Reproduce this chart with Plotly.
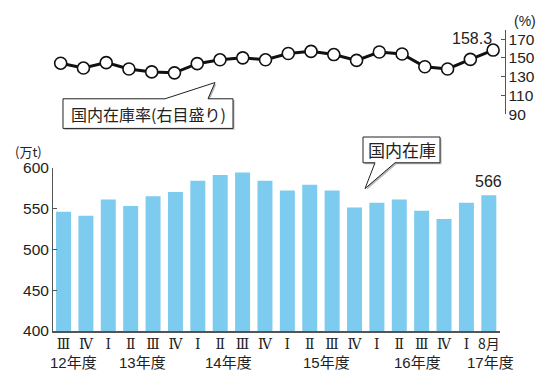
import plotly.graph_objects as go

# Quarterly periods (fiscal years 2012-2017), domestic stock (10k t) and stock ratio (%)
periods = ["Ⅲ", "Ⅳ", "Ⅰ", "Ⅱ", "Ⅲ", "Ⅳ", "Ⅰ", "Ⅱ", "Ⅲ", "Ⅳ",
           "Ⅰ", "Ⅱ", "Ⅲ", "Ⅳ", "Ⅰ", "Ⅱ", "Ⅲ", "Ⅳ", "Ⅰ", "8月"]
stock = [546, 541, 561, 553, 565, 570, 584, 591, 594, 584,
         572, 579, 572, 551, 557, 561, 547, 537, 557, 566]
stock_ratio = [144.3, 139.1, 144.9, 138.1, 135.0, 134.0, 143.8, 147.9, 150.0, 147.9,
               154.6, 156.9, 153.5, 147.3, 156.2, 154.1, 140.5, 138.1, 148.4, 158.3]
fiscal_years = ["12年度", "13年度", "14年度", "15年度", "16年度", "17年度"]
fiscal_year_pos = [0.43, 3.54, 7.35, 11.73, 15.83, 19.09]
stock_ticks = [400, 450, 500, 550, 600]
ratio_ticks = [90, 110, 130, 150, 170]

W, H = 547, 380
LATIN = "Liberation Sans, Arial, Noto Sans CJK JP"
CJK = "Noto Sans CJK JP, Liberation Sans"
ROMAN = {"Ⅰ", "Ⅱ", "Ⅲ", "Ⅳ"}


def px(x):
    return x / W


def py(y):
    return 1 - y / H


def path(points, dx=0.0, dy=0.0):
    return "M " + " L ".join(f"{px(x + dx):.5f},{py(y + dy):.5f}" for x, y in points) + " Z"


idx = list(range(len(periods)))
# quarter numerals in a serif face, month label in the sans face
tick_text = [f"<span style='font-family:DejaVu Serif'>{p}</span>" if p in ROMAN else p
             for p in periods]

fig = go.Figure()
fig.add_trace(go.Bar(
    x=idx, y=stock, xaxis="x", yaxis="y",
    marker=dict(color="#7dccef", line=dict(width=0)),
    width=0.67, hoverinfo="skip",
))
fig.add_trace(go.Scatter(
    x=idx, y=stock_ratio, xaxis="x2", yaxis="y2",
    mode="lines+markers",
    line=dict(color="#111111", width=3),
    marker=dict(size=12, color="white", line=dict(color="#111111", width=1.6)),
    hoverinfo="skip",
))

annotations = []
for name, pos in zip(fiscal_years, fiscal_year_pos):
    annotations.append(dict(
        text=name, x=pos, xref="x", y=py(370), yref="paper",
        xanchor="center", yanchor="middle", showarrow=False,
        font=dict(family=LATIN, size=15, color="#222"),
    ))
annotations += [
    dict(text="(万t)", x=px(28), y=py(149), xref="paper", yref="paper",
         showarrow=False, xanchor="center", yanchor="middle",
         font=dict(family=CJK, size=13, color="#222")),
    dict(text="(%)", x=px(525), y=py(13), xref="paper", yref="paper",
         showarrow=False, xanchor="center", yanchor="middle",
         font=dict(family=LATIN, size=14, color="#222")),
    dict(text=f"{stock_ratio[-1]:.1f}", x=idx[-1], y=stock_ratio[-1], xref="x2", yref="y2",
         showarrow=False, xanchor="right", yanchor="middle", xshift=1, yshift=12,
         font=dict(family=LATIN, size=16, color="#222")),
    dict(text=f"{stock[-1]}", x=idx[-1], y=stock[-1], xref="x", yref="y",
         showarrow=False, xanchor="center", yanchor="bottom", yshift=3,
         font=dict(family=LATIN, size=16, color="#222")),
    dict(text="国内在庫率(右目盛り)", x=px(148), y=py(110), xref="paper", yref="paper",
         showarrow=False, xanchor="center", yanchor="middle",
         font=dict(family=CJK, size=16, color="#222")),
    dict(text="国内在庫", x=px(401.5), y=py(147.5), xref="paper", yref="paper",
         showarrow=False, xanchor="center", yanchor="middle",
         font=dict(family=CJK, size=17, color="#222")),
]

# speech-bubble callouts: soft shadow first, then the outlined bubble
bubble_ratio = [(63, 94), (165, 94), (215, 77), (208, 94), (233, 94), (233, 125), (63, 125)]
bubble_stock = [(363, 134), (440, 134), (440, 161), (395, 161), (365, 188), (375, 161), (363, 161)]
shapes = []
for pts in (bubble_ratio, bubble_stock):
    shapes.append(dict(type="path", xref="paper", yref="paper", path=path(pts, 1.5, 1.5),
                       line=dict(width=0), fillcolor="#b5b5b5", layer="above"))
    shapes.append(dict(type="path", xref="paper", yref="paper", path=path(pts),
                       line=dict(color="#222", width=1), fillcolor="white", layer="above"))

fig.update_layout(
    width=W, height=H, autosize=False,
    margin=dict(l=0, r=0, t=0, b=0),
    paper_bgcolor="white", plot_bgcolor="rgba(0,0,0,0)",
    showlegend=False, bargap=0.33,
    annotations=annotations, shapes=shapes,
    xaxis=dict(
        domain=[px(53), px(500)], range=[-0.47, 19.5], anchor="y",
        tickvals=idx, ticktext=tick_text, ticks="", showgrid=False, zeroline=False,
        showline=True, linecolor="#555", linewidth=1.5,
        tickfont=dict(family=CJK, size=14, color="#222"),
    ),
    yaxis=dict(
        domain=[py(337), py(166)], range=[400, 600], anchor="x",
        tickvals=stock_ticks, ticks="inside", ticklen=4, tickcolor="#555",
        showline=True, linecolor="#555", linewidth=1, showgrid=False, zeroline=False,
        tickfont=dict(family=LATIN, size=15.5, color="#222"),
    ),
    xaxis2=dict(
        domain=[px(49.3), px(504.5)], range=[-0.5, 19.5], anchor="y2",
        visible=False,
    ),
    yaxis2=dict(
        domain=[py(110), py(21.7)], range=[90, 180], anchor="x2", side="right",
        tickvals=ratio_ticks, ticks="inside", ticklen=4, tickcolor="#555",
        showline=True, linecolor="#555", linewidth=1, showgrid=False, zeroline=False,
        tickfont=dict(family=LATIN, size=15.5, color="#222"),
    ),
)

fig.write_html("out.html")
